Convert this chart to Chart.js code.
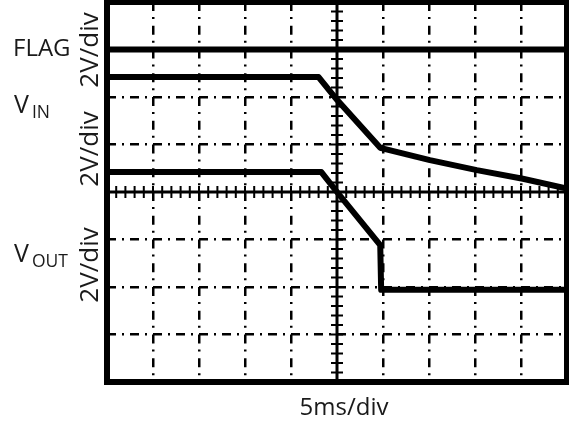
<!DOCTYPE html>
<html>
<head>
<meta charset="utf-8">
<script src="https://cdn.jsdelivr.net/npm/chart.js@4.4.1/dist/chart.umd.min.js"></script>
<style>
  body { margin: 0; background: #fff; }
  #wrap { position: relative; width: 569px; height: 425px; font-family: "Open Sans", sans-serif; color: #1a1a1a; }
  .lbl { position: absolute; line-height: 1; white-space: nowrap; }
  .rot { font-size: 26px; transform: translate(-50%, -50%) rotate(-90deg); }
  .sub { font-size: 17.5px; position: relative; top: 5px; margin-left: 3px; }
</style>
</head>
<body>
<div id="wrap">
  <canvas id="scope"></canvas>
  <div class="lbl" style="left:13px;top:35px;font-size:24px">FLAG</div>
  <div class="lbl" style="left:14px;top:91px;font-size:25px">V<span class="sub">IN</span></div>
  <div class="lbl" style="left:14px;top:240px;font-size:25px">V<span class="sub">OUT</span></div>
  <div class="lbl rot" style="left:88px;top:50px">2V/div</div>
  <div class="lbl rot" style="left:88px;top:149px">2V/div</div>
  <div class="lbl rot" style="left:88px;top:265px">2V/div</div>
  <div class="lbl" style="left:344px;top:394px;font-size:24px;transform:translateX(-50%)">5ms/div</div>
</div>
<script>
// time axis: 5 ms/div, 10 divisions; vertical axis in screen divisions (8)
const flagTime = [0, 50];
const flagDiv = [7.0, 7.0];

const vinTime = [0, 23.0, 25.0, 29.7, 35.1, 40.2, 45.2, 50];
const vinDiv = [6.42, 6.42, 5.94, 4.93, 4.67, 4.46, 4.28, 4.07];

const voutTime = [0, 23.3, 25.0, 29.7, 29.8, 50];
const voutDiv = [4.42, 4.42, 4.0, 2.88, 1.94, 1.94];

const xTicks = [0, 5, 10, 15, 20, 25, 30, 35, 40, 45, 50];
const yTicks = [0, 1, 2, 3, 4, 5, 6, 7, 8];

function toPoints(xs, ys) {
    return xs.map((x, i) => ({ x: x, y: ys[i] }));
}

// edge and centre lines are drawn solid by the plugin below
function gridColor(first, mid, last) {
    return ctx => {
        const v = ctx.tick ? ctx.tick.value : null;
        return (v === first || v === mid || v === last) ? 'rgba(0,0,0,0)' : '#000';
    };
}

const scopeFrame = {
    id: 'scopeFrame',
    beforeDatasetsDraw(chart) {
        const { ctx, chartArea: a, scales: { x, y } } = chart;
        const cx = x.getPixelForValue(25);
        const cy = y.getPixelForValue(4);
        ctx.save();
        ctx.strokeStyle = '#000';
        ctx.lineWidth = 3;
        ctx.beginPath();
        ctx.moveTo(cx, a.top); ctx.lineTo(cx, a.bottom);
        ctx.moveTo(a.left, cy); ctx.lineTo(a.right, cy);
        ctx.stroke();
        // minor ticks, 5 per division
        ctx.lineWidth = 2;
        ctx.beginPath();
        for (let t = 1; t < 50; t++) {
            const px = x.getPixelForValue(t);
            ctx.moveTo(px, cy - 6); ctx.lineTo(px, cy + 6);
        }
        for (let t = 1; t < 40; t++) {
            const py = y.getPixelForValue(t * 0.2);
            ctx.moveTo(cx - 6, py); ctx.lineTo(cx + 6, py);
        }
        ctx.stroke();
        ctx.restore();
    },
    afterDatasetsDraw(chart) {
        const { ctx, chartArea: a } = chart;
        ctx.save();
        ctx.strokeStyle = '#000';
        ctx.lineWidth = 6;
        ctx.strokeRect(a.left, a.top, a.right - a.left, a.bottom - a.top);
        ctx.restore();
    }
};

const canvas = document.getElementById('scope');

window.scopeChart = new Chart(canvas, {
    type: 'line',
    data: {
        datasets: [
            { label: 'FLAG', data: toPoints(flagTime, flagDiv) },
            { label: 'VIN', data: toPoints(vinTime, vinDiv) },
            { label: 'VOUT', data: toPoints(voutTime, voutDiv) }
        ]
    },
    options: {
        responsive: true,
        maintainAspectRatio: false,
        animation: false,
        layout: { padding: { left: 107, top: 2, right: 2, bottom: 43 } },
        plugins: { legend: { display: false }, tooltip: { enabled: false } },
        elements: {
            point: { radius: 0 },
            line: { borderColor: '#000', borderWidth: 6, tension: 0, borderJoinStyle: 'round', borderCapStyle: 'round' }
        },
        scales: {
            x: {
                type: 'linear',
                min: 0,
                max: 50,
                afterBuildTicks: scale => { scale.ticks = xTicks.map(v => ({ value: v })); },
                ticks: { display: false },
                grid: { color: gridColor(0, 25, 50), lineWidth: 2.5, drawTicks: false },
                border: { display: false, dash: [9, 6, 2, 6.75] }
            },
            y: {
                type: 'linear',
                min: 0,
                max: 8,
                afterBuildTicks: scale => { scale.ticks = yTicks.map(v => ({ value: v })); },
                ticks: { display: false },
                grid: { color: gridColor(0, 4, 8), lineWidth: 2.5, drawTicks: false },
                border: { display: false, dash: [9, 6, 2, 6] }
            }
        }
    },
    plugins: [scopeFrame]
});
</script>
</body>
</html>
